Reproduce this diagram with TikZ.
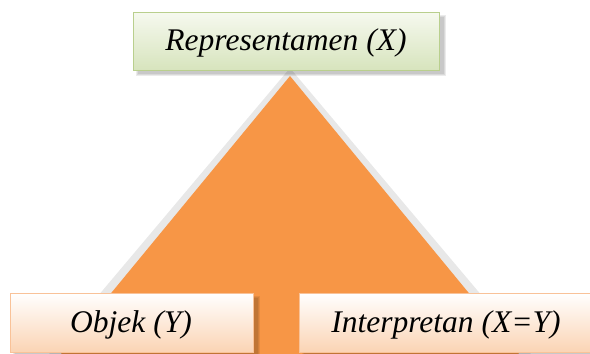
\documentclass[tikz,border=0pt]{standalone}
\usepackage{fontspec}
\setmainfont{Liberation Serif}
\begin{document}
\begin{tikzpicture}[x=1pt,y=-1pt,
  boxtext/.style={font=\itshape\fontsize{31.5}{36}\selectfont, text=black},
  shadowA/.style={fill=black, fill opacity=0.08},
]
\definecolor{tri}{HTML}{F79646}
\definecolor{greenA}{HTML}{F6F9EF}
\definecolor{greenB}{HTML}{D7E4BD}
\definecolor{greenE}{HTML}{B9CF8D}
\definecolor{peachA}{HTML}{FFFFFF}
\definecolor{peachB}{HTML}{FBD4B4}
\definecolor{peachE}{HTML}{F9C298}
\useasboundingbox (0,0) rectangle (590,354);
% triangle glow
\fill[black!9] (290,68) -- (44,360) -- (536,360) -- cycle;
\fill[tri] (290,76) -- (56,360) -- (524,360) -- cycle;
% top box
\fill[shadowA] (136,15) rectangle (446,76);
\fill[shadowA] (137,16) rectangle (445,75);
\fill[shadowA] (138,17) rectangle (444,74);
\shade[top color=greenA, bottom color=greenB, draw=greenE, line width=1pt] (133,12) rectangle (439,70);
\node[boxtext] (rep) at (286,43) {Representamen (X)};
% bottom left box
\fill[shadowA] (13,296) rectangle (260,359);
\fill[shadowA] (14,297) rectangle (259,358);
\fill[shadowA] (15,298) rectangle (258,357);
\shade[top color=peachA, bottom color=peachB, draw=peachE, line width=1pt] (10,293) rectangle (253,352);
\node[boxtext] (obj) at (131,325) {Objek (Y)};
% bottom right box
\fill[shadowA] (302,296) rectangle (600,359);
\fill[shadowA] (303,297) rectangle (600,358);
\fill[shadowA] (304,298) rectangle (600,357);
\shade[top color=peachA, bottom color=peachB, draw=peachE, line width=1pt] (299,293) rectangle (596,352);
\node[boxtext] (int) at (446,325) {Interpretan (X=Y)};
\end{tikzpicture}
\end{document}
